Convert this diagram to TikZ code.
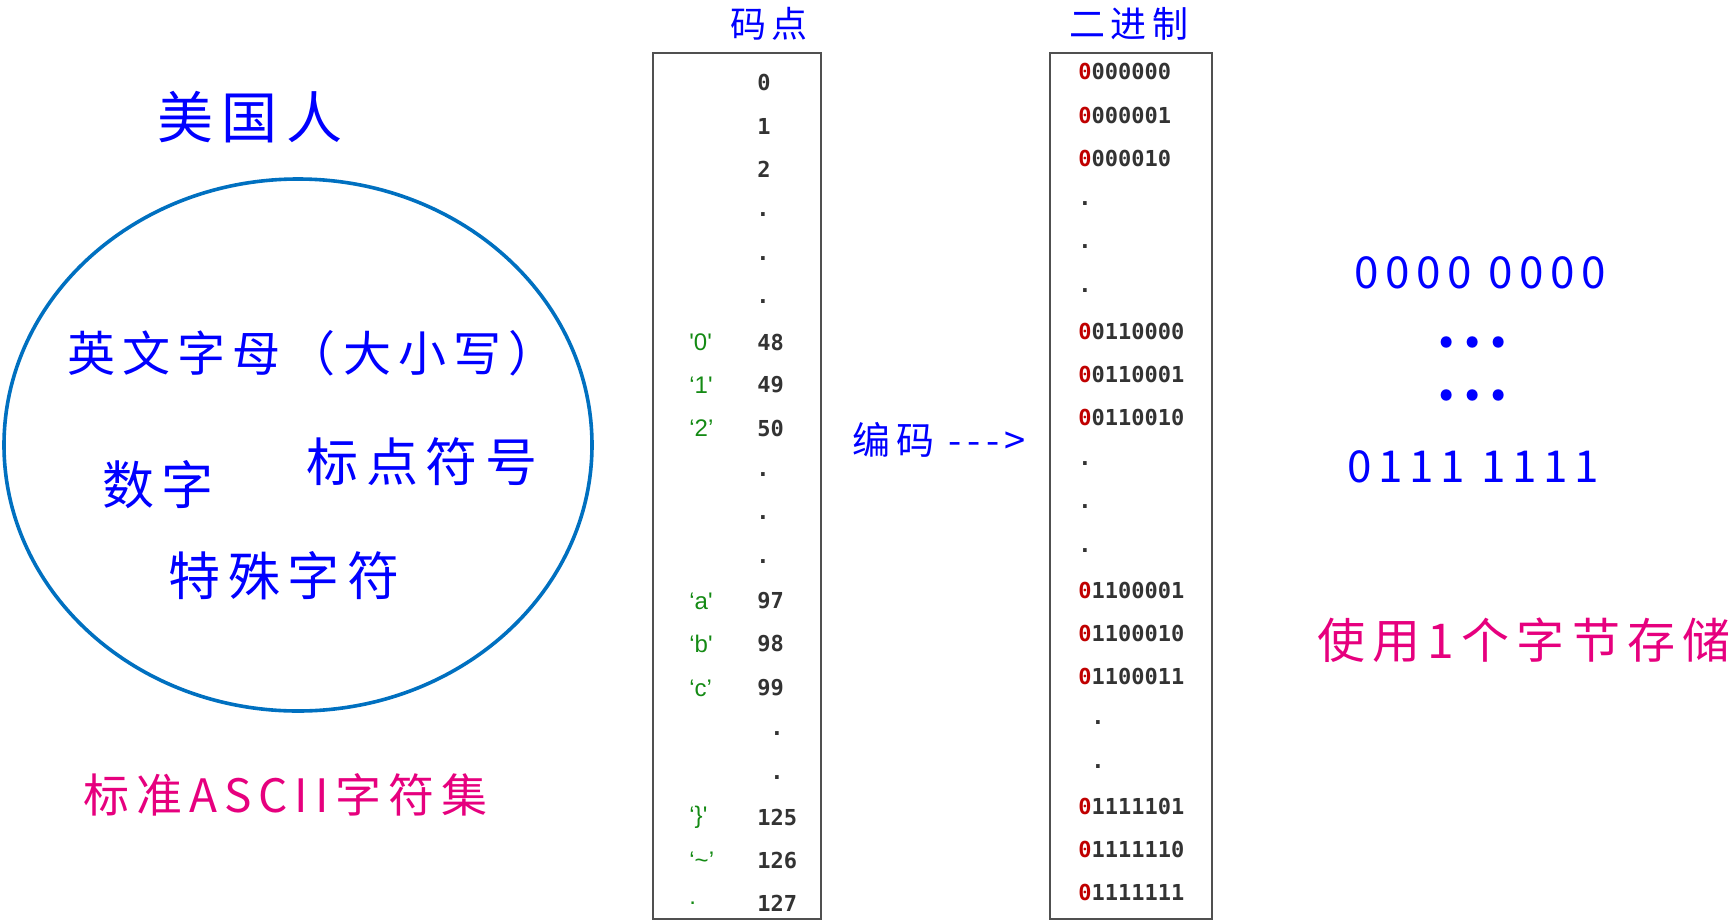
\documentclass[tikz,border=0pt]{standalone}
\usepackage{fontspec}
\newfontfamily\handfont[LetterSpace=15]{Noto Sans CJK SC}
\newfontfamily\codefont{DejaVu Sans Mono}
\newfontfamily\quotefont{Liberation Sans}
\definecolor{penblue}{HTML}{0000FF}
\definecolor{penpink}{HTML}{E6007E}
\definecolor{ringblue}{HTML}{0070C0}
\definecolor{numgray}{HTML}{333333}
\definecolor{bitred}{HTML}{C00000}
\definecolor{chargreen}{HTML}{148A14}
\definecolor{boxgray}{HTML}{505050}
\newcommand{\rz}{\textcolor{bitred}{0}}
\newcommand{\sq}{\symbol{39}}
\begin{document}
\begin{tikzpicture}[x=0.5pt, y=-0.5pt,
    hand/.style={inner sep=0pt, text=penblue, font=\handfont\fontsize{#1pt}{#1pt}\selectfont},
    pink/.style={hand=#1, text=penpink},
    gapdots/.style={inner sep=0pt, text=penblue, font=\handfont\bfseries\fontsize{26pt}{26pt}\selectfont},
    num/.style={anchor=west, inner sep=0pt, text=numgray, font=\codefont\bfseries\fontsize{11pt}{11pt}\selectfont},
    rowdot/.style={num, anchor=base},
    chr/.style={anchor=west, inner sep=0pt, text=chargreen, font=\quotefont\fontsize{12pt}{12pt}\selectfont},
    column/.style={draw=boxgray, line width=1.1pt}]
    \useasboundingbox (0, 0) rectangle (1736, 922);

    % left: the set
    \node[hand=28] (who) at (250, 117) {美国人};
    \draw[ringblue, line width=1.8pt] (298, 445) ellipse [x radius=294, y radius=266];
        \node[hand=24] (letters) at (312, 353) {英文字母（大小写）};
        \node[hand=26] (digits) at (158, 485) {数字};
        \node[hand=26] (punct) at (422, 462) {标点符号};
        \node[hand=26] (special) at (284, 576) {特殊字符};
    \node[pink=23, anchor=west] (setname) at (83, 795) {标准ASCII字符集};

    % code points
    \node[hand=18] (cptitle) at (769, 24) {码点};
    \draw[column] (653, 53) rectangle (821, 919);
        \node[num] (c0) at (757, 82) {0};
        \node[num] (c1) at (757, 126) {1};
        \node[num] (c2) at (757, 169) {2};
        \node[rowdot] (cd1) at (763, 216) {.};
        \node[rowdot] (cd2) at (763, 260) {.};
        \node[rowdot] (cd3) at (763, 303) {.};
        \node[chr] (q48) at (689, 342) {\sq0\sq};
        \node[num] (c48) at (757, 342) {48};
        \node[chr] (q49) at (689, 385) {‘1\sq};
        \node[num] (c49) at (757, 385) {49};
        \node[chr] (q50) at (689, 428) {‘2’};
        \node[num] (c50) at (757, 428) {50};
        \node[rowdot] (cd4) at (763, 476) {.};
        \node[rowdot] (cd5) at (763, 519) {.};
        \node[rowdot] (cd6) at (763, 563) {.};
        \node[chr] (q97) at (689, 601) {‘a\sq};
        \node[num] (c97) at (757, 601) {97};
        \node[chr] (q98) at (689, 644) {‘b\sq};
        \node[num] (c98) at (757, 644) {98};
        \node[chr] (q99) at (689, 688) {‘c’};
        \node[num] (c99) at (757, 688) {99};
        \node[rowdot] (cd7) at (777, 735) {.};
        \node[rowdot] (cd8) at (777, 779) {.};
        \node[chr] (q125) at (689, 817) {‘\}\sq};
        \node[num] (c125) at (757, 817) {125};
        \node[chr] (q126) at (689, 860) {‘\symbol{126}’};
        \node[num] (c126) at (757, 860) {126};
        \node[chr] (q127) at (689, 903) {.};
        \node[num] (c127) at (757, 903) {127};

    \node[hand=19, anchor=west] (encode) at (852, 440) {编码 ---{>}};

    % binary
    \node[hand=18] (bintitle) at (1129, 24) {二进制};
    \draw[column] (1050, 53) rectangle (1212, 919);
        \node[num] (b0) at (1078, 71) {\rz000000};
        \node[num] (b1) at (1078, 115) {\rz000001};
        \node[num] (b2) at (1078, 158) {\rz000010};
        \node[rowdot] (bd1) at (1085, 205) {.};
        \node[rowdot] (bd2) at (1085, 248) {.};
        \node[rowdot] (bd3) at (1085, 292) {.};
        \node[num] (b48) at (1078, 331) {\rz0110000};
        \node[num] (b49) at (1078, 374) {\rz0110001};
        \node[num] (b50) at (1078, 417) {\rz0110010};
        \node[rowdot] (bd4) at (1085, 465) {.};
        \node[rowdot] (bd5) at (1085, 508) {.};
        \node[rowdot] (bd6) at (1085, 552) {.};
        \node[num] (b97) at (1078, 590) {\rz1100001};
        \node[num] (b98) at (1078, 633) {\rz1100010};
        \node[num] (b99) at (1078, 676) {\rz1100011};
        \node[rowdot] (bd7) at (1098, 724) {.};
        \node[rowdot] (bd8) at (1098, 768) {.};
        \node[num] (b125) at (1078, 806) {\rz1111101};
        \node[num] (b126) at (1078, 849) {\rz1111110};
        \node[num] (b127) at (1078, 892) {\rz1111111};

    % one byte
    \node[hand=22] (bytelow) at (1480, 273) {0000 0000};
    \node[gapdots] (gap1) at (1473, 342) {...};
    \node[gapdots] (gap2) at (1473, 395) {...};
    \node[hand=22] (bytehigh) at (1473, 467) {0111 1111};
    \node[pink=24, anchor=west] (onebyte) at (1317, 640) {使用1个字节存储};
\end{tikzpicture}
\end{document}
